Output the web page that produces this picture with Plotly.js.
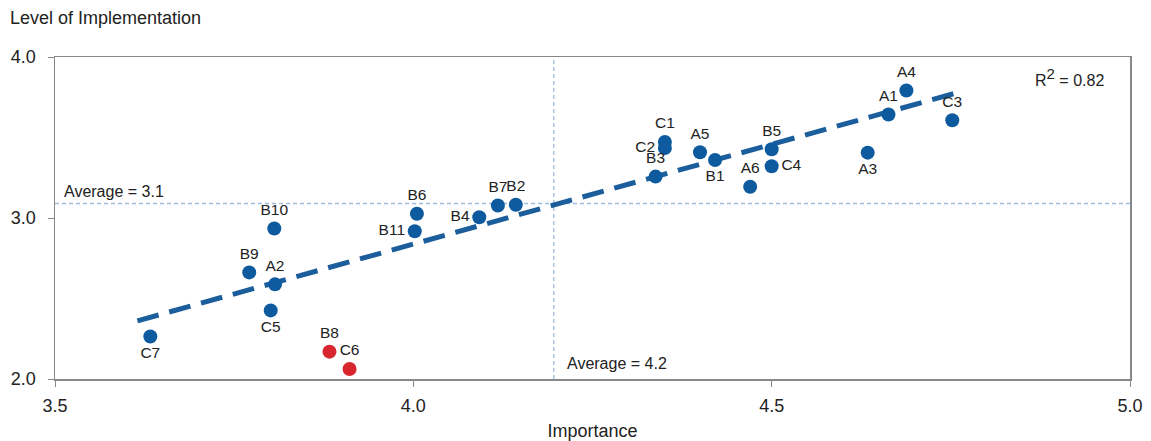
<!DOCTYPE html>
<html><head><meta charset="utf-8">
<script src="https://cdn.plot.ly/plotly-3.0.1.min.js"></script>
<style>html,body{margin:0;padding:0;background:#fff;}#chart{width:1151px;height:441px;}</style>
</head><body><div id="chart"></div>
<script>
// Blue items
const blueLabels = ["C7","B10","B9","A2","C5","B6","B11","B4","B7","B2","C1","C2","A5","B1","B3","B5","C4","A6","A4","A1","C3","A3"];
const blueImportance = [3.633,3.806,3.771,3.807,3.801,4.005,4.002,4.092,4.118,4.143,4.351,4.351,4.400,4.421,4.338,4.500,4.500,4.470,4.688,4.663,4.752,4.634];
const blueImplementation = [2.264,2.935,2.662,2.588,2.426,3.026,2.918,3.005,3.078,3.082,3.472,3.435,3.408,3.360,3.257,3.427,3.321,3.194,3.792,3.643,3.607,3.406];
const bluePos = ["bottom center","top center","top center","top center","bottom center","top center","middle left","middle left","top center","top center","top center","middle left","top center","bottom center","top center","top center","middle right","top center","top center","top center","top center","bottom center"];
// Red items
const redLabels = ["B8","C6"];
const redImportance = [3.883,3.911];
const redImplementation = [2.170,2.062];
const redPos = ["top center","top center"];
// Trend line endpoints
const trendX = [3.615,4.757];
const trendY = [2.361,3.776];
// Averages
const avgImportance = 4.196;
const avgImplementation = 3.09;
const xTicks = [3.5,4.0,4.5,5.0];
const yTicks = [2.0,3.0,4.0];

const blue = "#0d5b9e", red = "#d7262d";
const fam = "Liberation Sans, Arial, sans-serif";
const font = {family: fam, size: 15, color: "#222"};
const avgLine = {color: "#9dbbe0", width: 1.3, dash: "4px,3px"};

const traces = [
  {x: [avgImportance, avgImportance], y: [2.0, 4.0], mode: "lines", line: avgLine, hoverinfo: "skip", showlegend: false},
  {x: [3.5, 5.0], y: [avgImplementation, avgImplementation], mode: "lines", line: avgLine, hoverinfo: "skip", showlegend: false},
  {x: trendX, y: trendY, mode: "lines", line: {color: "#1b5e9b", width: 5, dash: "22px,11px"}, showlegend: false},
  {x: blueImportance, y: blueImplementation, text: blueLabels, textposition: bluePos, mode: "markers+text",
   marker: {color: blue, size: 14}, textfont: {family: fam, size: 15.5, color: "#222"}, cliponaxis: false, showlegend: false},
  {x: redImportance, y: redImplementation, text: redLabels, textposition: redPos, mode: "markers+text",
   marker: {color: red, size: 14}, textfont: {family: fam, size: 15.5, color: "#222"}, cliponaxis: false, showlegend: false}
];

const layout = {
  width: 1151, height: 441,
  margin: {l: 55, r: 21, t: 57, b: 62},
  paper_bgcolor: "#fff", plot_bgcolor: "#fff",
  font: font,
  xaxis: {range: [3.5, 5.0], tickvals: xTicks, ticktext: xTicks.map(v => v.toFixed(1)), ticks: "outside", ticklen: 6, tickcolor: "#888",
    ticklabelstandoff: 4,
    showline: true, linecolor: "#888", linewidth: 1.5, mirror: true, showgrid: false, zeroline: false,
    tickfont: {family: fam, size: 18, color: "#222"},
    title: {text: "Importance", font: {family: fam, size: 18, color: "#222"}, standoff: 10}},
  yaxis: {range: [2.0, 4.0], tickvals: yTicks, ticktext: yTicks.map(v => v.toFixed(1)), ticks: "outside", ticklen: 6, tickcolor: "#888",
    ticklabelstandoff: 8,
    showline: true, linecolor: "#888", linewidth: 1.5, mirror: true, showgrid: false, zeroline: false,
    tickfont: {family: fam, size: 18, color: "#222"}},
  annotations: [
    {xref: "paper", yref: "paper", x: 0, y: 1.0, xshift: -47, yshift: 39, xanchor: "left", yanchor: "middle", showarrow: false,
     text: "Level of Implementation", font: {family: fam, size: 18, color: "#222"}},
    {xref: "x", yref: "y", x: 3.5, y: avgImplementation, xshift: 7, yshift: 2, xanchor: "left", yanchor: "bottom", showarrow: false,
     text: "Average = 3.1", font: {family: fam, size: 16, color: "#222"}},
    {xref: "x", yref: "y", x: avgImportance, y: 2.0, xshift: 11, yshift: 5, xanchor: "left", yanchor: "bottom", showarrow: false,
     text: "Average = 4.2", font: {family: fam, size: 16, color: "#222"}},
    {xref: "paper", yref: "paper", x: 1.0, y: 1.0, xshift: -24, yshift: -20, xanchor: "right", yanchor: "middle", showarrow: false,
     text: "R<sup><span style=\"font-size:15px\">2</span></sup> = 0.82", font: {family: fam, size: 16, color: "#222"}}
  ]
};
Plotly.newPlot("chart", traces, layout, {displayModeBar: false, staticPlot: true});
</script></body></html>
